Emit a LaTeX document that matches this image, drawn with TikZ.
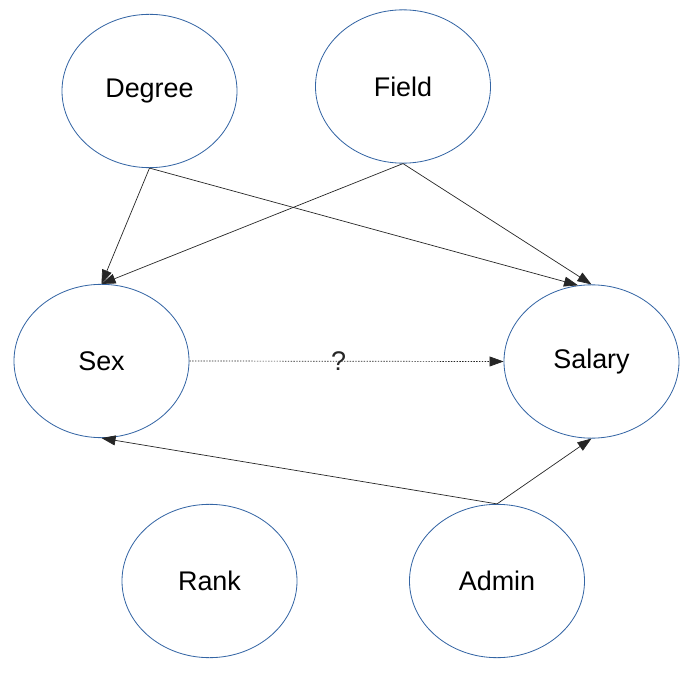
\documentclass[tikz,border=0pt]{standalone}
\usepackage{fontspec}
\setmainfont{Liberation Sans}
\usetikzlibrary{shapes.geometric,arrows.meta}
\definecolor{ovalblue}{RGB}{52,101,164}

\begin{document}
\begin{tikzpicture}[x=0.03cm, y=-0.03cm,
    var/.style={ellipse, draw=ovalblue, line width=0.7pt, inner sep=0pt,
                minimum width=5.25cm, minimum height=4.6cm,
                font=\fontsize{23}{27}\selectfont},
    causal/.style={-{Triangle[length=12pt,width=8.5pt]}, line width=0.6pt, black!85},
    unknown/.style={causal, dash pattern=on 1.2pt off 1.2pt}]

          \useasboundingbox (0,0) rectangle (689,676);

          \node[var] (degree) at (149.5,91) {Degree};
          \node[var] (field)  at (403,86.5) {Field};
          \node[var] (sex)    at (101.5,361) {Sex};
          \node[var] (salary) at (591.5,361.5) {Salary};
          \node[var] (rank)   at (209.5,581) {Rank};
          \node[var] (admin)  at (497,581) {Admin};

          \draw[causal] (degree.south) -- (sex.north);
          \draw[causal] (degree.south) -- (salary.100);
          \draw[causal] (field.south) -- (sex.north);
          \draw[causal] (field.south) -- (salary.north);
          \draw[causal] (admin.north) -- (sex.south);
          \draw[causal] (admin.north) -- (salary.south);

          \draw[unknown] (sex.east) -- node[pos=0.475, font=\fontsize{23}{27}\selectfont] (q) {?} (salary.west);
        \end{tikzpicture}
\end{document}
